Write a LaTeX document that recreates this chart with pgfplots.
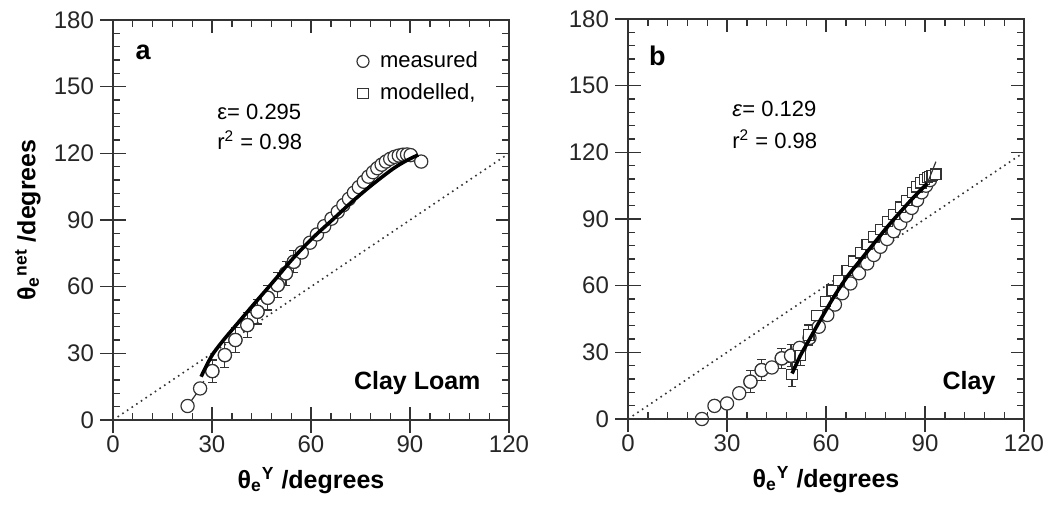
\documentclass[border=0pt]{standalone}
\usepackage{pgfplots}
\pgfplotsset{compat=1.18}
\usepackage{fontspec}
\setmainfont{Liberation Sans}

\definecolor{ink}{gray}{0.2}

\pgfplotsset{
  panel/.style={
    scale only axis, width=198pt, height=200pt,
    xmin=0, xmax=120, ymin=0, ymax=180,
    xtick={0,30,...,120}, ytick={0,30,...,180},
    minor tick num=4,
    tick align=inside, tick pos=both,
    major tick length=6.5pt, minor tick length=3.5pt,
    axis line style={ink, line width=0.8pt},
    tick style={ink, line width=0.7pt},
    clip=false, clip marker paths=true,
    /pgf/number format/assume math mode=true,
    ticklabel style={font=\fontsize{12}{13}\selectfont, text=black!85},
    xticklabel style={yshift=-4.5pt},
    yticklabel style={xshift=-6pt},
    xlabel style={font=\fontsize{12.5}{14}\bfseries, at={(axis description cs:0.5,-0.17)}, anchor=base},
  },
  outerticks/.style={
    panel, tick align=outside, tick pos=left, minor tick num=0,
    xticklabels={}, yticklabels={},
  },
  meas/.style={only marks, mark=*, mark size=3.3pt,
    mark options={draw=ink, fill=white, line width=0.6pt}},
  modl/.style={only marks, mark=square*, mark size=2.6pt,
    mark options={draw=ink, fill=white, line width=0.6pt}},
  ebars/.style={
    error bars/y dir=both, error bars/y explicit,
    error bars/error bar style={ink, line width=0.6pt},
    error bars/error mark options={rotate=90, mark size=2.2pt, ink, line width=0.6pt}},
  oneone/.style={dotted, ink, line width=0.8pt},
  fit/.style={black, line width=1.8pt},
}

\newcommand{\ann}{\fontsize{11}{13}\selectfont}
\newcommand{\thY}{θ\textsubscript{e}\textsuperscript{Y} /degrees}

\begin{document}
\begin{tikzpicture}
\useasboundingbox (0,0) rectangle (522.5pt,255.5pt);

% ---------- panel a : Clay Loam ----------
\begin{axis}[panel, at={(56.5pt,45.5pt)}, anchor=south west,
  xlabel={\thY},
  ylabel={θ\textsubscript{e}\textsuperscript{net} /degrees},
  ylabel style={font=\fontsize{12.5}{14}\bfseries, at={(axis description cs:-0.215,0.5)}, anchor=center},
  legend style={draw=none, fill=none, at={(rel axis cs:0.6,0.94)}, anchor=north west,
    font=\ann, row sep=3pt, column sep=4pt,
    nodes={inner sep=1.5pt, text height=8pt, text depth=2pt}},
  legend cell align=left,
  legend image code/.code={\draw[#1] plot coordinates {(0pt,0pt)};},
]
\addlegendimage{meas, mark size=3pt}
\addlegendentry{measured}
\addlegendimage{modl}
\addlegendentry{modelled,}

\addplot[oneone, forget plot] coordinates {(0,0) (120,120)};

\addplot[meas, ebars, forget plot] coordinates {
  (30.1,22) +- (0,5)  (33.9,29.2) +- (0,5.5) (37.1,36) +- (0,5.5)
  (40.7,42.7) +- (0,5.5) (43.8,48.7) +- (0,5.5) (46.9,55) +- (0,5.5)
  (49.9,60.7) +- (0,5.5) (52.4,66) +- (0,5.5) (54.8,71.2) +- (0,5)
};

\addplot[ink, line width=0.6pt, forget plot] coordinates {(22.6,6.3) (26.4,14.2) (27.5,17.5)};

\addplot[meas, forget plot] coordinates {
  (22.6,6.3) (26.4,14.2) (30.1,22) (33.9,29.2) (37.1,36) (40.7,42.7)
  (43.8,48.7) (46.9,55) (49.9,60.7) (52.4,66) (54.8,71.2) (57.2,75.4)
  (59.7,79.8) (61.8,83.5) (64,87.2) (66.2,90.6) (68.1,93.7) (69.8,96.7)
  (71.5,99.5) (73,102.3) (74.5,104.8) (76,107.2) (77.4,109.5) (78.8,111.5)
  (80.1,113.3) (81.4,114.9) (82.7,116.3) (84,117.5) (85.3,118.4) (86.6,119)
  (87.9,119.4) (89.1,119.5) (90.2,119.2) (93.4,116.3)
};

\addplot[fit, forget plot, smooth] coordinates {
  (26.7,19.5) (28.5,25) (30.4,30) (33.5,36) (36.5,41.3) (42.5,51.8)
  (48.6,62.3) (54.6,72.8) (60.7,82.2) (66.8,90.5) (72.8,98.7) (78.9,106.3)
  (85,113.2) (89,116.8) (92.5,119.3)
};

\node[font=\fontsize{13.5}{15}\bfseries, anchor=center] at (axis cs:9.1,165.6) {a};
\node[font=\ann, anchor=west] at (axis cs:29.5,138.6) {ε= 0.295};
\node[font=\ann, anchor=west] at (axis cs:29.5,126) {r\textsuperscript{2} = 0.98};
\node[font=\fontsize{12.5}{14}\bfseries, anchor=east] at (axis cs:113.5,16.7) {Clay Loam};
\end{axis}
\begin{axis}[outerticks, at={(56.5pt,45.5pt)}, anchor=south west]
\end{axis}

% ---------- panel b : Clay ----------
\begin{axis}[panel, at={(314pt,46pt)}, anchor=south west,
  xlabel={\thY},
]
\addplot[oneone] coordinates {(0,0) (120,120)};

\addplot[meas, ebars] coordinates {
  (37.1,16.8) +- (0,5) (40.5,22) +- (0,4.8) (46.6,27.3) +- (0,4.5)
  (49.4,28.5) +- (0,5)
};
\addplot[modl, ebars] coordinates {
  (49.7,20) +- (0,5.3) (52.2,28.5) +- (0,4.6) (54.8,37.8) +- (0,4.5)
};

\addplot[meas] coordinates {
  (22.4,0) (26.2,5.9) (30,7) (33.7,11.6) (37.1,16.8) (40.5,22) (43.6,23.2)
  (46.6,27.3) (49.4,28.5) (52,32) (55,36.5) (57.8,41.5) (60.4,46.8)
  (62.7,51.5) (64.9,56.6) (67.4,61) (70,65.6) (72.5,70) (74.5,73.8)
  (76.5,77.5) (78.5,81) (80.5,84.5) (82.5,88) (84.3,91.5) (86,95)
  (87.6,98.5) (89,102) (90.3,105) (91.5,107.5)
};

\addplot[modl] coordinates {
  (49.7,20) (52.2,28.5) (54.8,37.8) (57.3,46.5) (59.8,52.8) (61.9,58)
  (63.9,62.3) (66.4,66.8) (68.4,71) (70.5,74.8) (72.5,78.5) (74.5,82)
  (76.6,85.3) (78.6,88.8) (80.6,92) (82.6,95.3) (84.5,98.3) (86.2,102)
  (87.5,104.5) (88.7,106.3) (89.8,107.7) (90.7,108.6) (91.5,109.2)
  (92.2,109.6) (93.3,110.2)
};

\addplot[ink, line width=0.6pt] coordinates {(90.7,106) (93.3,115.8)};
\addplot[fit, smooth] coordinates {
  (49.7,20.5) (50.2,22) (52.2,28.5) (54.3,34) (58.3,44.6) (62.4,55)
  (66.4,64) (70.5,71.6) (74.5,79) (78.6,86.5) (82.6,93.3) (86.7,100)
  (90.7,106)
};

\node[font=\fontsize{13.5}{15}\bfseries, anchor=center] at (axis cs:8.9,163.5) {b};
\node[font=\ann, anchor=west] at (axis cs:29.5,139.5) {\textit{ε}= 0.129};
\node[font=\ann, anchor=west] at (axis cs:29.5,126) {r\textsuperscript{2} = 0.98};
\node[font=\fontsize{12.5}{14}\bfseries, anchor=east] at (axis cs:113.5,16.2) {Clay};
\end{axis}
\begin{axis}[outerticks, at={(314pt,46pt)}, anchor=south west]
\end{axis}
\end{tikzpicture}
\end{document}
